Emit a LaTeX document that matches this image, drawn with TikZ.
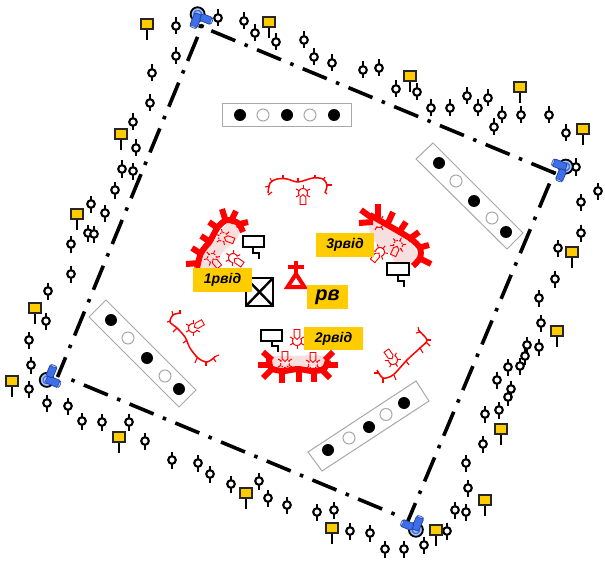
\documentclass[tikz,border=0pt]{standalone}
\usepackage{fontspec}
\setmainfont{Liberation Sans}
\definecolor{signy}{HTML}{FFCC00}
\definecolor{trenchred}{HTML}{FF0000}
\definecolor{palepink}{HTML}{F7DFDF}
\definecolor{camblue}{HTML}{3F6FE8}
\definecolor{camdark}{HTML}{1F3F9F}
\definecolor{camlight}{HTML}{A9C4F5}
\definecolor{panelgrey}{HTML}{A8A8A8}
\tikzset{
  border/.style={line width=3.6pt,black},
  sideA/.style={border,dash pattern=on 3.5pt off 10pt on 26pt off 10pt},
  panel/.style={draw=panelgrey,line width=1pt,fill=white},
  fulldot/.style={fill=black},
  opendot/.style={draw=panelgrey,line width=1pt,fill=white},
  thicktr/.style={trenchred,line width=6pt},
  thintr/.style={trenchred,line width=1.5pt},
  thintick/.style={trenchred,line width=1.1pt},
  flagbox/.style={draw=black,line width=2.8pt,fill=white},
  lbl/.style={fill=signy,inner sep=0pt,text=black},
}
\newcommand{\mkr}[2]{%
  \draw[black,line width=2.1pt] (#1,#2-8.5) -- (#1,#2+8.5);
  \draw[black,fill=white,line width=2.1pt] (#1,#2) circle (3.8pt);}
\newcommand{\sgn}[2]{%
  \draw[black,line width=2.2pt] (#1,#2) -- (#1,#2+16);
  \draw[black!85,fill=signy,line width=2.8pt] (#1-6,#2-5) rectangle (#1+6,#2+5);}
\newcommand{\fanmk}[4][x]{% mode,x,y,angle
  \begin{scope}[shift={(#2,#3)},rotate=-#4,trenchred,line width=1pt]
    \if#1d
      \draw[dash pattern=on 1.6pt off 1.4pt] plot[smooth,domain=145:395,samples=11] (\x:4.5);
    \else
      \draw plot[smooth,domain=145:395,samples=11] (\x:4.5);
    \fi
    \foreach \a in {150,210,270,330,30} \draw (\a:4.5) -- (\a:8);
    \if#1n\else
    \draw[line width=.9pt] (0,1.5) -- (2.9,4.2) -- (2.9,11.5) -- (-2.9,11.5) -- (-2.9,4.2) -- cycle;
    \fi
  \end{scope}}
\newcommand{\camr}[3]{%
  \begin{scope}[shift={(#1,#2)},rotate=-#3]
    \draw[black,fill=camlight,line width=1.8pt] (-4.4,-4.4) circle (7pt);
    \draw[camblue,line width=1.3pt] (-4.4,-4.4) circle (3.8pt);
    \draw[camdark,fill=camblue,line width=.7pt,rounded corners=1.5pt] (-7.5,-5) rectangle (0.2,9);
    \draw[camdark,fill=camblue,line width=.7pt,rounded corners=1.5pt] (-0.6,-7) rectangle (11.4,0.4);
    \draw[camdark,fill=camlight,line width=.5pt] (11,-3.3) ellipse (1pt and 3.2pt);
    \draw[camdark,fill=camlight,line width=.5pt] (-3.7,9) ellipse (3.4pt and 1pt);
  \end{scope}}
\begin{document}
\begin{tikzpicture}[x=1pt,y=-1pt]
\useasboundingbox[fill=white] (0,0) rectangle (605,567);
% corners of the dash-dotted perimeter
\coordinate (ctl) at (198.8,25.6);
\coordinate (ctr) at (555.4,173.4);
\coordinate (cbr) at (398,515.6);
\coordinate (cbl) at (71.4,379.8);
\coordinate (ctl2) at (202.7,24.4);
\coordinate (crt) at (554.7,171.1);
\coordinate (cbt) at (407.5,522);
\coordinate (clb) at (57.5,377);
\draw[sideA] (ctl) -- (ctr);
\draw[sideA] (crt) -- (cbt);
\draw[sideA] (cbl) -- (cbr);
\draw[sideA] (ctl2) -- (clb);
% sensor markers
\foreach \x/\y in {176/26,176/56,152/73,218/18,244/21,255/33,276/42,150/103,133/122,136/148,122/169,133/171,115/190,91/204,105/213,88/233,94/234,71/244,71/274,48/291,46/321,29/340,31/365,29/389,47/403,68/406,82/421,102/422,129/422,145/441,172/460,198/463,210/474,231/484,259/481,268/498,287/505,317/512,334/510,350/531,370/533,385/549,404/549,424/545,447/531,455/510,466/512,468/488,466/463,483/444,485/414,499/410,508/397,511/389,497/380,508/367,520/366,525/356,527/345,539/347,541/323,539/298,555/279,558/248,581/233,581/202,598/191,576/167,566/133,549/115,521/115,502/115,494/127,488/98,478/108,467/96,450/108,431/108,417/92,304/40,314/57,332/63,363/70,379/68,396/89}
  {\mkr{\x}{\y}}
% signs
\foreach \x/\y in {147/24,269/22,410/76,520/87,583/129,572/252,557/331,501/429,485/500,436/530,332/528,246/493,119/437,12/381,35/308,77/214,121/134}
  {\sgn{\x}{\y}}
% cameras
\camr{200}{20}{22.5}
\camr{560}{169}{112.5}
\camr{413.5}{524}{202.5}
\camr{52.5}{377.5}{292.5}
% panels
\draw[panel] (222,104) rectangle (351,127);
\foreach \x in {240,287,334} \fill[fulldot] (\x,115) circle (6pt);
\foreach \x in {263,310} \draw[opendot] (\x,115) circle (6pt);
\draw[panel] (433,143) -- (523,233) -- (507,249) -- (416,159) -- cycle;
\foreach \x/\y in {439/163,474/201,506/232} \fill[fulldot] (\x,\y) circle (6pt);
\foreach \x/\y in {456/181,492/218} \draw[opendot] (\x,\y) circle (6pt);
\draw[panel] (106,300) -- (196,390) -- (179,407) -- (89,317) -- cycle;
\foreach \x/\y in {111/320,147/358,179/389} \fill[fulldot] (\x,\y) circle (6pt);
\foreach \x/\y in {128/338,165/376} \draw[opendot] (\x,\y) circle (6pt);
\draw[panel] (416,381) -- (429,401) -- (322,471) -- (308,452) -- cycle;
\foreach \x/\y in {328/450,369/427,404/403} \fill[fulldot] (\x,\y) circle (6pt);
\foreach \x/\y in {349/438,386/414.5} \draw[opendot] (\x,\y) circle (6pt);
% thin trenches
\draw[thintr] plot[smooth] coordinates {(268,193) (270,183) (277,179) (287,179) (298,182) (313,178) (323,179) (327,185) (325,193)};
\foreach \a/\b/\c/\d in {265/187/270/186,270/178/272/182,268/195/272/192,283/175/283/179,298/178/298/182,315/175/315/178,325/177/323/180,332/185/327/185,327/194/325/192}
  \draw[thintick] (\a,\b) -- (\c,\d);
\draw[thintr] plot[smooth] coordinates {(180,313) (173,315) (170,322) (177,328) (185,337) (190,348) (198,358) (207,362) (215,357)};
\foreach \a/\b/\c/\d in {172/311/173/316,180/310/180/314,167/322/171/321,173/332/177/328,183/343/187/340,195/363/197/358,206/366/206/362,216/362/213/358,219/355/214/357}
  \draw[thintick] (\a,\b) -- (\c,\d);
\draw[thintr] plot[smooth] coordinates {(377,370) (383,378) (393,375) (407,360) (420,348) (427,340) (418,330)};
\foreach \a/\b/\c/\d in {374/373/379/373,383/383/383/378,396/380/394/375,409/365/406/361,423/353/420/348,430/346/426/342,431/340/427/340,416/333/420/332,418/327/419/331}
  \draw[thintick] (\a,\b) -- (\c,\d);
% pale fills
\fill[palepink] plot[smooth cycle] coordinates {(229,222) (240,227) (236,240) (222,253) (216,268) (200,268) (204,253) (215,240)};
\fill[palepink] plot[smooth cycle] coordinates {(370,218) (385,226) (400,235) (416,250) (414,264) (396,264) (390,253) (378,246) (370,232)};
\fill[palepink] plot[smooth cycle] coordinates {(272,356) (285,356) (325,356) (325,366) (298,366) (283,368) (272,364)};
% thick trenches
\draw[thicktr] plot[smooth] coordinates {(197,268) (201,253) (210,241) (218,227) (227,220) (238,223) (243,232)};
\foreach \a/\b/\c/\d in {186/264/200/263,192/248/203/255,201/236/212/243,209/222/219/229,222/209/226/222,236/211/230/223,248/222/236/225}
  \draw[thicktr] (\a,\b) -- (\c,\d);
\draw[thicktr] plot[smooth] coordinates {(370,215) (384,223) (398,231) (411,239) (420,248) (420,258) (413,266)};
\foreach \a/\b/\c/\d in {361/210/372/218,359/223/373/222,378/204/378/220,393/212/388/223,406/222/400/231,419/232/408/240,429/245/418/248,431/264/419/258}
  \draw[thicktr] (\a,\b) -- (\c,\d);
\draw[thicktr] plot[smooth] coordinates {(269,358) (271,368) (283,371) (298,369) (312,371) (324,369) (328,360)};
\foreach \a/\b/\c/\d in {263/352/272/360,258/365/272/365,263/378/273/368,282/383/282/369,299/382/299/368,314/382/314/368,330/378/320/368,338/365/325/365,333/352/325/360}
  \draw[thicktr] (\a,\b) -- (\c,\d);
% position symbols
\fanmk{303}{193}{0}
\fanmk[d]{223}{237}{-70}
\fanmk[d]{212}{258}{-40}
\fanmk{233}{258}{-55}
\fanmk[n]{379}{223}{90}
\fanmk[d]{398}{245}{25}
\fanmk{380}{252}{40}
\fanmk[d]{285}{363}{180}
\fanmk[d]{313}{364}{180}
\fanmk{297}{341}{180}
\fanmk{193}{328}{-120}
\fanmk{393}{360}{145}
% black symbols
\draw[flagbox] (243,236) rectangle (264,247);
\draw[black,line width=2.6pt] (253,247) -- (253,253) -- (259,253) -- (259,259);
\draw[flagbox] (261,330) rectangle (282,341);
\draw[black,line width=2.6pt] (272,341) -- (272,346) -- (278,346) -- (278,352);
\draw[flagbox] (387,263) rectangle (409,275);
\draw[black,line width=2.6pt] (398,275) -- (398,281) -- (404,281) -- (404,287);
\draw[flagbox] (246,278) rectangle (273,306);
\draw[black,line width=2.4pt] (246,278) -- (273,306) (273,278) -- (246,306);
% command post
\draw[trenchred,line width=3.2pt] (296,261) -- (296,273) (288,267) -- (304,267);
\draw[trenchred,line width=4pt,fill=white,line join=miter] (296,274) -- (304.5,287) -- (287.5,287) -- cycle;
% labels
\node[lbl,minimum width=59pt,minimum height=24pt,font=\bfseries\itshape\fontsize{14}{15}\selectfont] (coy1) at (222.5,280) {1рвід};
\node[lbl,minimum width=58pt,minimum height=24pt,font=\bfseries\itshape\fontsize{14}{15}\selectfont] (coy3) at (345,245) {3рвід};
\node[lbl,minimum width=59pt,minimum height=23pt,font=\bfseries\itshape\fontsize{14}{15}\selectfont] (coy2) at (333.5,338.5) {2рвід};
\node[lbl,minimum width=41pt,minimum height=24pt,font=\bfseries\itshape\fontsize{20}{22}\selectfont] (hq) at (327.5,297) {рв};
\end{tikzpicture}
\end{document}
